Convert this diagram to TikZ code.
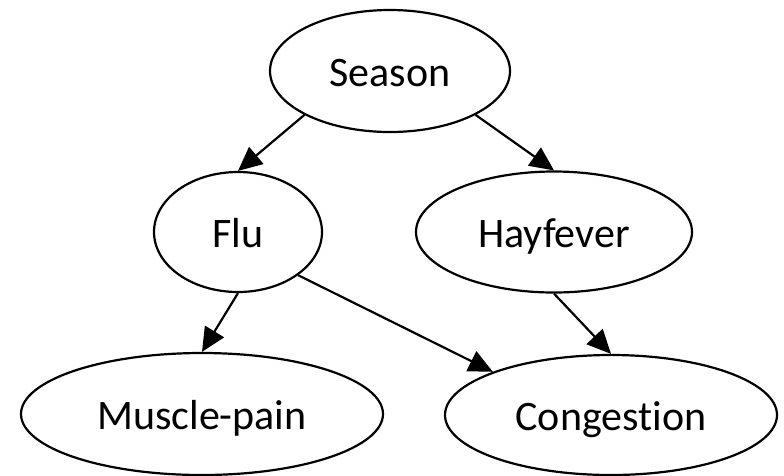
\documentclass[tikz,border=0pt]{standalone}
\usepackage{fontspec}
\setmainfont[Ligatures={NoCommon,NoRare,NoContextual},Contextuals=NoAlternate]{Carlito}
\usetikzlibrary{shapes.geometric,arrows.meta}
\begin{document}
\begin{tikzpicture}[x=1pt, y=-1pt, line width=2.2pt,
        var/.style={draw, ellipse, inner sep=0pt, text height=32pt, text depth=1pt,
            font=\fontsize{42}{50}\selectfont},
        dep/.style={-{Triangle[length=24pt,width=22pt]}}]
        \useasboundingbox (0,0) rectangle (784,475);

        \node[var, minimum width=240pt, minimum height=122pt] (season) at (390,71) {Season};
        \node[var, minimum width=168pt, minimum height=120pt] (flu) at (238,232) {Flu};
        \node[var, minimum width=276pt, minimum height=121pt] (hayfever) at (554,232) {Hayfever};
        \node[var, minimum width=362pt, minimum height=122pt] (musclepain) at (202,414) {Muscle-pain};
        \node[var, minimum width=332pt, minimum height=120pt] (congestion) at (611,415) {Congestion};

        \draw[dep] (season.south west) -- (flu.north);
        \draw[dep] (season.south east) -- (hayfever.north);
        \draw[dep] (flu.south) -- (musclepain.north);
        \draw[dep] (flu.south east) -- (congestion.north west);
        \draw[dep] (hayfever.south) -- (congestion.north);
    \end{tikzpicture}
\end{document}
